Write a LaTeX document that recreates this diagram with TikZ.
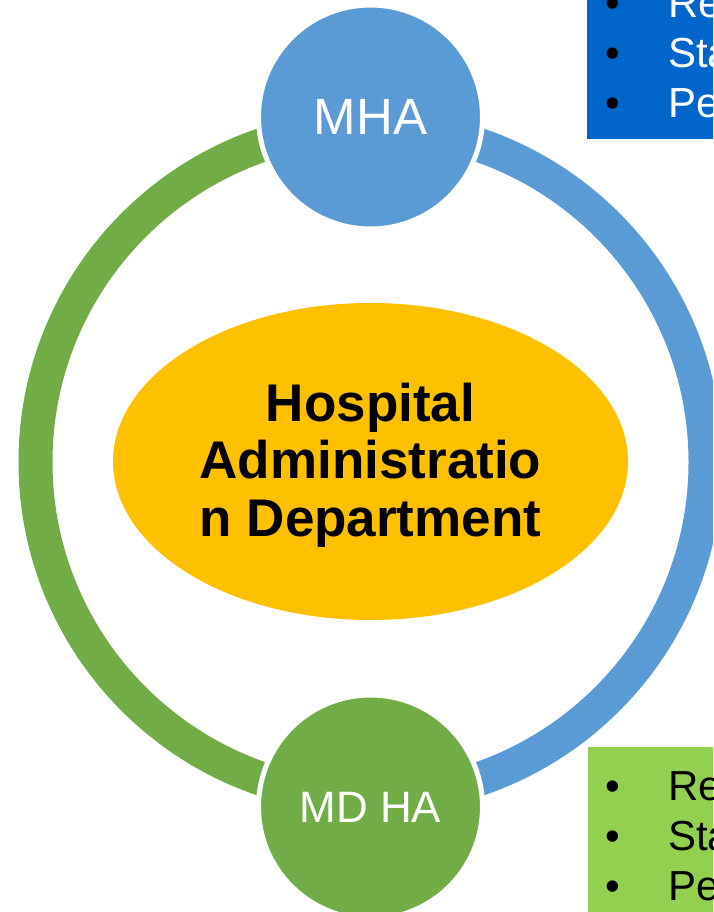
\documentclass[tikz,border=0pt]{standalone}
\usepackage{fontspec}
\setmainfont{Liberation Sans}
\usetikzlibrary{shapes.geometric}
\definecolor{mhablue}{HTML}{5B9BD5}
\definecolor{ringgreen}{HTML}{70AD47}
\definecolor{hubyellow}{HTML}{FFC000}
\definecolor{boxblue}{HTML}{0066CC}
\definecolor{boxgreen}{HTML}{92D050}
\begin{document}
\begin{tikzpicture}[x=1pt,y=-1pt,
  ringseg/.style={line width=34pt},
  rolecircle/.style={circle, draw=white, line width=5pt, minimum size=224pt, inner sep=0pt, text=white},
  listbox/.style={anchor=north west, minimum width=140pt, inner sep=0pt, outer sep=0pt},
  bulletmark/.style={anchor=base, inner sep=0pt, font=\fontsize{42}{50}\selectfont},
  listtext/.style={anchor=base west, inner sep=0pt, font=\fontsize{42}{50}\selectfont}]
\useasboundingbox (0,0) rectangle (713,912);
\clip (0,0) rectangle (713,912);
% ring
\coordinate (rc) at (370.5,462);
\draw[ringseg, ringgreen] (rc) ++(270:335) arc (270:90:335);
\draw[ringseg, mhablue] (rc) ++(270:335) arc (270:450:335);
% centre
\node[ellipse, fill=hubyellow, minimum width=515pt, minimum height=317pt, inner sep=0pt] (hub) at (370.5,461.5) {};
\node[align=center, inner sep=0pt, font=\fontsize{53}{57.5}\selectfont\bfseries] (hubtext) at (370.5,465) {Hospital\\Administratio\\n Department};
% role circles
\node[rolecircle, fill=mhablue, font=\fontsize{51}{60}\selectfont] (mha) at (370.5,117) {MHA};
\node[rolecircle, fill=ringgreen, font=\fontsize{44}{52}\selectfont] (mdha) at (370.5,807) {MD HA};
% blue list box
\node[listbox, fill=boxblue, minimum height=149pt] (bluebox) at (587,-10) {};
\node[bulletmark] (bb1) at (613,18) {•};
\node[bulletmark] (bb2) at (613,68) {•};
\node[bulletmark] (bb3) at (613,118) {•};
\node[listtext, text=white] (bt1) at (668,18) {Re};
\node[listtext, text=white] (bt2) at (668,68) {Sta};
\node[listtext, text=white] (bt3) at (668,118) {Pe};
% green list box
\node[listbox, fill=boxgreen, minimum height=180pt] (greenbox) at (588,747) {};
\node[bulletmark] (gb1) at (613,800) {•};
\node[bulletmark] (gb2) at (613,850) {•};
\node[bulletmark] (gb3) at (613,900) {•};
\node[listtext] (gt1) at (668,800) {Re};
\node[listtext] (gt2) at (668,850) {Sta};
\node[listtext] (gt3) at (668,900) {Pe};
\end{tikzpicture}
\end{document}
